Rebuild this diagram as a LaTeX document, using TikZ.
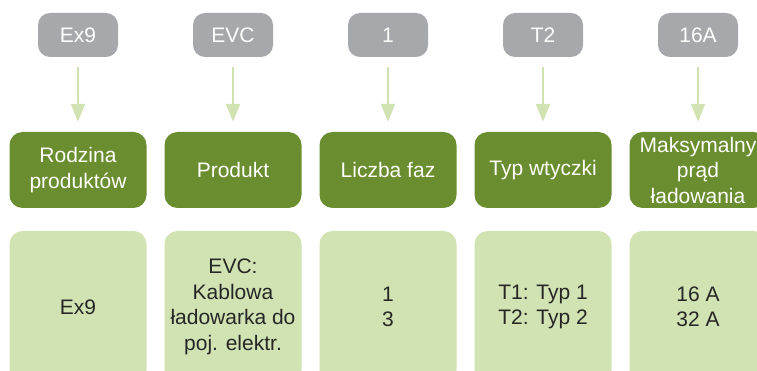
\documentclass[tikz,border=0pt]{standalone}
\usepackage{fontspec}
\setmainfont{Liberation Sans}
\usetikzlibrary{arrows.meta}

\definecolor{codegrey}{HTML}{A7A8AB}
\definecolor{headgreen}{HTML}{6A8D2F}
\definecolor{valgreen}{HTML}{D1E3B2}

\begin{document}
\begin{tikzpicture}[x=1pt, y=-1pt,
        codebox/.style={fill=codegrey, text=white, rounded corners=12pt, minimum width=80pt, minimum height=44pt, inner sep=0pt},
        headbox/.style={fill=headgreen, text=white, rounded corners=13pt, minimum width=137pt, minimum height=76pt, inner sep=0pt, align=center},
        valbox/.style={fill=valgreen, text=black!85, rounded corners=13pt, minimum width=137pt, minimum height=152pt, inner sep=0pt, align=center},
        link/.style={draw=valgreen, line width=2.5pt, -{Triangle[width=14pt, length=18pt]}, shorten <=10pt, shorten >=10pt}]
        \useasboundingbox (0, 0) rectangle (757, 371);
        \clip (0, 0) rectangle (757, 371);
        \begin{scope}[every node/.style={font=\fontsize{21}{25.5}\selectfont}]
            \node[codebox] (c1) at (78, 35) {Ex9};
            \node[codebox] (c2) at (233, 35) {EVC};
            \node[codebox] (c3) at (388, 35) {1};
            \node[codebox] (c4) at (543, 35) {T2};
            \node[codebox] (c5) at (698, 35) {16A};
            \node[headbox] (h1) at (78, 170) {Rodzina\\produktów};
            \node[headbox] (h2) at (233, 170) {Produkt};
            \node[headbox] (h3) at (388, 170) {Liczba faz};
            \node[headbox] (h4) at (543, 170) {Typ wtyczki};
            \node[headbox] (h5) at (698, 170) {Maksymalny\\prąd\\ładowania};
            \node[valbox] (v1) at (78, 307) {Ex9};
            \node[valbox] (v2) at (233, 307) {EVC:\\Kablowa\\ładowarka do\\poj. elektr.};
            \node[valbox] (v3) at (388, 307) {1\\3};
            \node[valbox] (v4) at (543, 307) {T1: Typ 1\\T2: Typ 2};
            \node[valbox] (v5) at (698, 307) {16 A\\32 A};
        \end{scope}

        \draw[link] (c1) -- (h1);
        \draw[link] (c2) -- (h2);
        \draw[link] (c3) -- (h3);
        \draw[link] (c4) -- (h4);
        \draw[link] (c5) -- (h5);
    \end{tikzpicture}
\end{document}
